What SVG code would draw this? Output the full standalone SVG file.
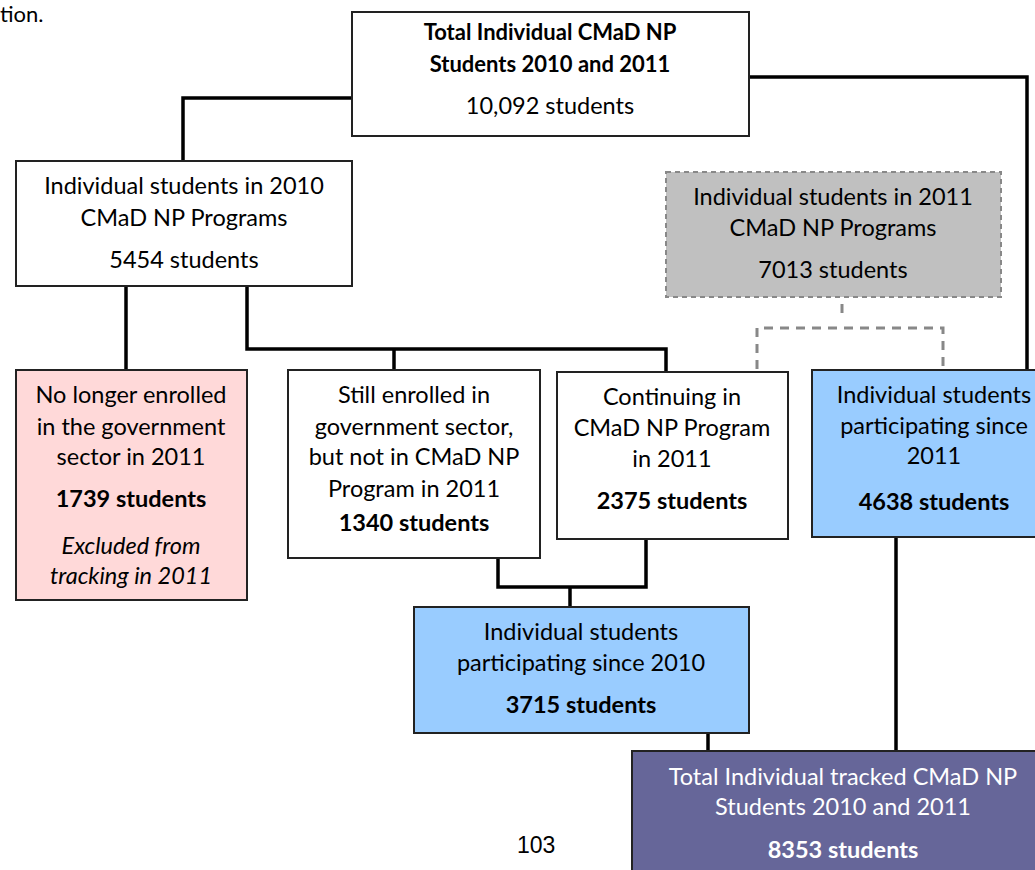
<svg xmlns="http://www.w3.org/2000/svg" width="1035" height="870" viewBox="0 0 1035 870">
<style>
.t{font-family:Lato,"Open Sans",sans-serif;font-size:23.5px;fill:#000;text-anchor:middle}
.b{font-weight:bold;font-size:23.5px}
.h{font-weight:bold;font-size:22px}
.i{font-style:italic}
.w{fill:#fff}
.box{stroke:#222;stroke-width:2}
.c{fill:none;stroke:#000;stroke-width:3.5}
.d{fill:none;stroke:#888;stroke-width:3;stroke-dasharray:9 7}
</style>
<rect width="1035" height="870" fill="#fff"/>
<text x="0" y="22" class="t" style="text-anchor:start;font-size:22px">tion.</text>
<g id="connectors">
<polyline class="c" points="352,98 183,98 183,161"/>
<polyline class="c" points="749,77 1027,77 1027,370"/>
<line class="c" x1="126" y1="286" x2="126" y2="370"/>
<polyline class="c" points="247,286 247,349 666,349 666,372"/>
<line class="c" x1="394" y1="349" x2="394" y2="370"/>
<polyline class="c" points="498,558 498,587 646,587 646,539"/>
<line class="c" x1="570" y1="587" x2="570" y2="607"/>
<line class="c" x1="708" y1="733" x2="708" y2="751"/>
<line class="c" x1="896" y1="537" x2="896" y2="751"/>
<line class="d" x1="842" y1="304" x2="842" y2="320"/>
<polyline class="d" points="757,369 757,328 943,328 943,369"/>
</g>
<g id="total">
<rect class="box" x="352" y="12" width="397" height="124" fill="#fff"/>
<text class="t h" x="550" y="40">Total Individual CMaD NP</text>
<text class="t h" x="550" y="72">Students 2010 and 2011</text>
<text class="t" x="550" y="114">10,092 students</text>
</g>
<g id="y2010">
<rect class="box" x="16" y="161" width="336" height="125" fill="#fff"/>
<text class="t" x="184" y="194">Individual students in 2010</text>
<text class="t" x="184" y="226">CMaD NP Programs</text>
<text class="t" x="184" y="268">5454 students</text>
</g>
<g id="y2011">
<rect x="666" y="172" width="335" height="125" fill="#c0c0c0" stroke="#888" stroke-width="2" stroke-dasharray="5 4"/>
<text class="t" x="833" y="205">Individual students in 2011</text>
<text class="t" x="833" y="236">CMaD NP Programs</text>
<text class="t" x="833" y="278">7013 students</text>
</g>
<g id="nolonger">
<rect class="box" x="16" y="370" width="231" height="230" fill="#ffd9d9"/>
<text class="t" x="131" y="403">No longer enrolled</text>
<text class="t" x="131" y="435">in the government</text>
<text class="t" x="131" y="465">sector in 2011</text>
<text class="t b" x="131" y="507">1739 students</text>
<text class="t i" x="131" y="554">Excluded from</text>
<text class="t i" x="131" y="584">tracking in 2011</text>
</g>
<g id="still">
<rect class="box" x="288" y="370" width="252" height="188" fill="#fff"/>
<text class="t" x="414" y="403">Still enrolled in</text>
<text class="t" x="414" y="435">government sector,</text>
<text class="t" x="414" y="465">but not in CMaD NP</text>
<text class="t" x="414" y="497">Program in 2011</text>
<text class="t b" x="414" y="531">1340 students</text>
</g>
<g id="continuing">
<rect class="box" x="557" y="372" width="231" height="167" fill="#fff"/>
<text class="t" x="672" y="405">Continuing in</text>
<text class="t" x="672" y="436">CMaD NP Program</text>
<text class="t" x="672" y="467">in 2011</text>
<text class="t b" x="672" y="509">2375 students</text>
</g>
<g id="since2011">
<rect class="box" x="812" y="370" width="245" height="167" fill="#99ccff"/>
<text class="t" x="934" y="403">Individual students</text>
<text class="t" x="934" y="434">participating since</text>
<text class="t" x="934" y="464">2011</text>
<text class="t b" x="934" y="510">4638 students</text>
</g>
<g id="since2010">
<rect class="box" x="414" y="607" width="335" height="126" fill="#99ccff"/>
<text class="t" x="581" y="640">Individual students</text>
<text class="t" x="581" y="671">participating since 2010</text>
<text class="t b" x="581" y="713">3715 students</text>
</g>
<g id="tracked">
<rect class="box" x="632" y="751" width="422" height="140" fill="#666699"/>
<text class="t w" x="843" y="785">Total Individual tracked CMaD NP</text>
<text class="t w" x="843" y="815">Students 2010 and 2011</text>
<text class="t b w" x="843" y="858">8353 students</text>
</g>
<text x="517" y="853" style="font-family:'Liberation Sans',Arial,sans-serif;font-size:23px;fill:#000">103</text>
</svg>
